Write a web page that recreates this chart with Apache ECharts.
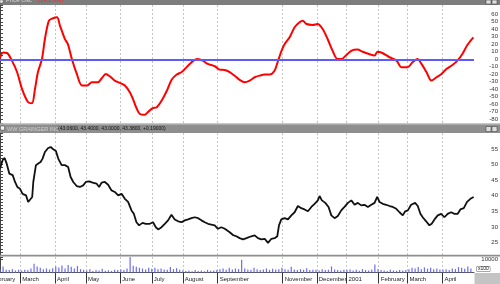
<!DOCTYPE html>
<html><head><meta charset="utf-8">
<script src="https://cdn.jsdelivr.net/npm/echarts@6/dist/echarts.min.js"></script>
<style>html,body{margin:0;padding:0;background:#fff}#c{width:500px;height:284px}</style>
</head><body><div id="c"></div>
<script>
// Month boundaries (trading-day index) and their labels
const monthDays = [-7, 13, 35.5, 55.5, 77.5, 98, 118, 140.5, 182.5, 204.5, 223.7, 244.5, 263, 285.6];
const monthLabels = ['February','March','April','May','June','July','August','September','November','December','2001','February','March','April'];

// Oscillator (top panel)
const oscDays = [0,2,4.5,7.7,11,14.2,18,20.6,22.6,24.5,27.1,29,31.6,34.2,36.8,38.7,41.9,43.8,46.4,49.6,52.9,56.1,59.3,63.2,65.8,68.3,70.9,74.1,77.4,80.6,83.8,85.8,88.3,90.3,93.5,95.4,98.6,101.2,104.4,107.7,110.9,114.1,117.3,119.3,122.5,125.7,127.7,130.9,134.1,138.6,141.8,145.1,148.3,151.5,154.7,158,161.2,164.4,167.6,170.9,174.1,177.3,179.2,181.8,183.8,187,190.2,193.4,195.4,197.9,201.8,205,208.3,211.5,214.7,217.9,220.5,223.7,227,230.8,234,238.6,241.8,243.7,246.9,251.5,256,259.2,263.1,266.3,269.5,272.1,275.3,278.5,281.8,285,288.2,292.1,295.3,298.5,301.7,305.6];
const oscValues = [1.3,8.9,8.4,-1.8,-17,-39.5,-57,-58.7,-39.5,-17,0.4,27,51.5,54.7,56,45,27,20.4,0.4,-19.6,-35,-35,-30.7,-30.7,-25,-19.6,-22.7,-28.4,-31.6,-35,-44,-52.9,-66,-73,-74,-70.7,-65,-64,-55,-42,-27,-20.4,-17,-13,-6.2,-0.9,0.4,-1.8,-6.2,-9.3,-13.8,-14.2,-17,-22,-27.5,-30.7,-28.4,-24,-21.8,-20.4,-20.4,-15,-4,11.6,20.4,29.3,42.7,49.3,51.5,47,45.8,47,40.4,27,11.6,0.4,0.4,5.8,11.6,12.9,10.2,6.7,4.9,10.2,8.4,2.7,-1.8,-10.7,-10.7,-4,0.4,-6.2,-17,-28.4,-24,-19.6,-12.9,-7.6,-1.8,7.1,19,29.3];

// Price (middle panel)
const priceDays = [0,1.7,3,4.3,6,8.2,9.7,11.2,12.9,14.6,16.8,18.2,19.3,20.8,21.5,23.2,24.7,26.2,27.5,29,31.1,32.7,34.4,36.1,37.6,39.8,41.9,44,45.6,47.3,49.5,51.6,53.7,55.4,57.6,59.8,62.3,64,65.6,67.7,69.8,72,74.1,76.3,78.5,80.6,82.7,84.9,86.4,88.1,89.8,92,94.1,96.7,98.8,100.6,102.1,104.3,106.4,108.5,110.7,112.8,115,117.2,119.3,121.4,123.6,125.7,127.9,130,132.2,134.3,136.5,138.6,140.7,142.9,145.1,148.3,150.4,152.6,154.7,156.9,159.1,162.3,164.4,166.5,168.7,170.9,173,175.2,177.3,179,180.1,181.6,183.8,185.9,188.1,190.2,192.3,194.5,196.6,198.8,201,203.1,205.2,206.3,207.8,210,212.1,213.9,216,218.1,220.3,222.4,224.6,226.8,228.9,231,233.2,235.3,237.5,239.7,241.8,243.5,245,247.1,249.3,251.5,253.6,255.8,257.9,260,261.6,263.3,265.4,268,269.7,271.4,272.9,275.1,277.2,278.7,280.5,282.6,284.8,286.9,289,291.2,293.4,295.5,297.2,299.4,301.5,303.7,305.8];
const priceValues = [48.7,51.4,52.1,50.3,47.1,46.6,44.4,42.8,42.2,40.6,40.1,38,38.5,39.6,44.4,49.8,50.3,50.8,51.9,54,55.3,55.6,54.9,54.3,51.9,49.8,49.8,49.2,46,44.4,43.1,42.8,43.3,44.4,44.6,44.2,43.9,42.8,44.2,44.4,43.5,41.7,41.2,40.1,40.6,39,38,35.3,34.2,31.5,30.5,31.3,31,31,31.5,29.9,29.2,29.9,31,32.1,33.9,32.4,31.8,31.5,32.1,32.4,32.8,33.1,32.8,32.1,31.5,31,30.7,30.5,29.4,29.9,29.4,28.3,27.4,27,26.4,26,26.4,27,27.3,26.4,26,26.2,24.9,26.2,26.4,27,30.5,32.4,32.8,32.4,33.7,34.7,36.7,36,35.6,35,36.4,37.4,38.5,39.9,38.5,37.7,36.4,33.7,32.8,33.5,35.3,36.4,37.7,38.5,37.1,37.7,36.9,37.1,36.4,37.1,37.7,39.6,38,37.4,37.1,36.7,36.4,35.8,34.7,33.7,35,35.3,37.1,37.7,36.7,34.2,33.1,31.8,30.5,31,32.4,33.7,34.2,33.1,34.2,34.7,34.2,34.2,35.6,36,38,39,39.6];

// Volume (x100 shares), one bar every 2 trading days starting at day 0
const volumeStep = 2;
const volumeValues = [2200,4500,2000,1800,2500,1500,2000,
  1500,2000,1800,3000,6500,4500,3500,2500,3000,2200,3200,
  4500,3800,5200,3000,5500,4200,3000,4800,2500,2000,
  1500,2500,1200,1800,1500,2800,1300,1600,1200,2000,1800,
  2200,1800,3000,11500,5000,4200,3500,3000,2200,3500,2800,
  3500,2500,3000,2200,2000,4000,2500,3200,2000,1500,
  1200,1500,1000,1800,1200,1500,1000,2000,1300,1500,1800,
  2500,3000,2000,3500,2200,3000,2500,9500,3000,2200,2000,3500,2500,1800,2200,3000,2000,2800,2200,2500,
  3500,2500,2000,4200,2200,1800,2500,2000,3200,1800,2000,
  2000,1500,2500,1800,2000,4500,2200,1800,1500,2000,
  1800,2200,1500,2000,1300,2500,1800,1500,2200,6000,
  2500,1800,1500,1200,2000,1500,1300,1800,1500,1800,
  2500,3500,3000,4000,2500,3800,2800,3500,2500,3000,2200,
  2000,2500,1800,3000,2500,4000,3500,2800,4500,3000];

const oscTickLabels = [60,50,40,30,20,10,0,-10,-20,-30,-40,-50,-60,-70,-80];
const priceTickLabels = [55,50,45,40,35,30,25];
const volumeTickLabels = [10000];

const FONT = 'Liberation Sans, Arial, sans-serif';
const X_MIN = -8, X_MAX = 306;
const GRID_LEFT = -12.4, GRID_RIGHT = 26;

function xAxisFor(gridIndex, showLabels) {
  return {
    type: 'value', gridIndex, min: X_MIN, max: X_MAX,
    axisLine: { show: showLabels, onZero: false, lineStyle: { color: '#555', width: 1 } },
    axisTick: { show: showLabels, customValues: monthDays, length: 11, lineStyle: { color: '#333' } },
    axisLabel: {
      show: showLabels, customValues: monthDays,
      formatter: v => { const i = monthDays.indexOf(v); return i >= 0 ? monthLabels[i] : ''; },
      align: 'left', margin: 4, padding: [0, 0, 0, 2], fontSize: 6, color: '#222', fontFamily: FONT
    },
    splitLine: { show: true, lineStyle: { color: '#c6c6c6', type: [2, 2], width: 1 } }
  };
}
function yAxisFor(gridIndex, min, max, interval, labels) {
  return {
    type: 'value', gridIndex, position: 'right', min, max, interval,
    axisLine: { show: true, lineStyle: { color: '#444' } },
    axisTick: { show: true, length: 3, lineStyle: { color: '#444' } },
    axisLabel: {
      formatter: v => labels.indexOf(v) >= 0 ? String(v) : '',
      fontSize: 6, color: '#333', align: 'right', margin: 24, fontFamily: FONT
    },
    splitLine: { show: false }
  };
}

const chart = echarts.init(document.getElementById('c'), null, { renderer: 'canvas', width: 500, height: 284 });
chart.setOption({
  animation: false,
  backgroundColor: '#fff',
  grid: [
    { left: GRID_LEFT, right: GRID_RIGHT, top: 5, height: 118, outerBoundsMode: 'none', containLabel: false },
    { left: GRID_LEFT, right: GRID_RIGHT, top: 133, height: 122, outerBoundsMode: 'none', containLabel: false },
    { left: GRID_LEFT, right: GRID_RIGHT, top: 257, height: 15.5, outerBoundsMode: 'none', containLabel: false }
  ],
  xAxis: [xAxisFor(0, false), xAxisFor(1, false), xAxisFor(2, true)],
  yAxis: [
    yAxisFor(0, -85, 72.4, 5, oscTickLabels),
    yAxisFor(1, 21, 60.1, 1, priceTickLabels),
    yAxisFor(2, 0, 11500, 10000, volumeTickLabels)
  ],
  series: [
    {
      type: 'line', xAxisIndex: 0, yAxisIndex: 0, showSymbol: false, smooth: 0.3,
      data: oscDays.map((d, i) => [d, oscValues[i]]),
      lineStyle: { color: '#ff0000', width: 2 }, itemStyle: { color: '#ff0000' },
      markLine: { silent: true, symbol: 'none', label: { show: false },
        lineStyle: { color: '#5b5bff', width: 2, type: 'solid' }, data: [{ yAxis: 0 }] },
      z: 3
    },
    {
      type: 'line', xAxisIndex: 1, yAxisIndex: 1, showSymbol: false,
      data: priceDays.map((d, i) => [d, priceValues[i]]),
      lineStyle: { color: '#111', width: 1.8 }, itemStyle: { color: '#111' }
    },
    {
      type: 'bar', xAxisIndex: 2, yAxisIndex: 2, barWidth: 1.2,
      data: volumeValues.map((v, i) => [i * volumeStep, v]),
      itemStyle: { color: '#6c6cf2' }
    }
  ],
  graphic: [
    { type: 'rect', shape: { x: 0, y: 0, width: 500, height: 5 }, style: { fill: '#7d7d7d' }, z: 10 },
    { type: 'text', x: 6, y: -3, style: { text: 'Price Osc', fontSize: 6, fontFamily: FONT, fill: '#dcdcdc' }, z: 11 },
    { type: 'text', x: 38, y: -3, style: { text: '(14.2504)', fontSize: 6, fontFamily: FONT, fill: '#ff2a2a' }, z: 11 },
    { type: 'rect', shape: { x: 0, y: 0, width: 3, height: 3 }, style: { fill: '#f4f4f4', stroke: '#555', lineWidth: 0.5 }, z: 11 },
    { type: 'rect', shape: { x: 0, y: 123.5, width: 500, height: 9.5 }, style: { fill: '#8e8e8e' }, z: 10 },
    { type: 'rect', shape: { x: 0, y: 123.5, width: 500, height: 1 }, style: { fill: '#c8c8c8' }, z: 10 },
    { type: 'rect', shape: { x: 0.5, y: 126, width: 4, height: 4 }, style: { fill: '#f4f4f4', stroke: '#444', lineWidth: 0.5 }, z: 11 },
    { type: 'text', x: 7, y: 126, style: { text: 'WW GRAINGER INC', fontSize: 5.5, fontFamily: FONT, fill: '#cfcfcf' }, z: 11 },
    { type: 'text', x: 58, y: 126, style: { text: '(43.0600, 43.4000, 43.0000, 43.3800, +0.19000)', fontSize: 5, fontFamily: FONT, fill: '#111' }, z: 11 },
    { type: 'rect', shape: { x: 486, y: 126.5, width: 5, height: 5 }, style: { fill: '#dedede', stroke: '#333', lineWidth: 0.5 }, z: 11 },
    { type: 'rect', shape: { x: 492, y: 126.5, width: 5, height: 5 }, style: { fill: '#dedede', stroke: '#333', lineWidth: 0.5 }, z: 11 },
    { type: 'rect', shape: { x: 486, y: 0, width: 5, height: 4 }, style: { fill: '#dedede', stroke: '#333', lineWidth: 0.5 }, z: 11 },
    { type: 'rect', shape: { x: 492, y: 0, width: 5, height: 4 }, style: { fill: '#dedede', stroke: '#333', lineWidth: 0.5 }, z: 11 },
    { type: 'rect', shape: { x: 0, y: 254.8, width: 500, height: 1.8 }, style: { fill: '#8e8e8e' }, z: 10 },
    { type: 'rect', shape: { x: 474.5, y: 273, width: 26, height: 11 }, style: { fill: '#c4c4c4' }, z: 10 },
    { type: 'text', x: 477, y: 266.5, style: { text: 'x100', fontSize: 5, fontFamily: FONT, fill: '#111', backgroundColor: '#fff', borderColor: '#555', borderWidth: 0.5, padding: [0, 1] }, z: 11 }
  ]
});
</script></body></html>
